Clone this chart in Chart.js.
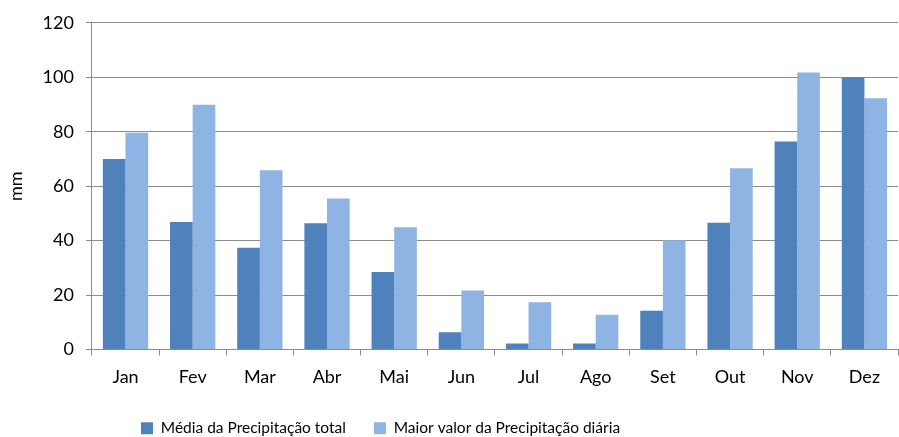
<!DOCTYPE html>
<html>
<head>
<meta charset="utf-8">
<script src="https://cdn.jsdelivr.net/npm/chart.js@4"></script>
<style>
  html, body { margin: 0; padding: 0; background: #fff; overflow: hidden; }
  #wrap { width: 899px; height: 446px; }
</style>
</head>
<body>
<div id="wrap"><canvas id="grafico"></canvas></div>
<script>
const meses = ['Jan', 'Fev', 'Mar', 'Abr', 'Mai', 'Jun', 'Jul', 'Ago', 'Set', 'Out', 'Nov', 'Dez'];
const mediaTotal = [70, 46.8, 37.4, 46.4, 28.5, 6.3, 2.2, 2.2, 14.2, 46.6, 76.4, 100];
const maiorDiaria = [79.6, 89.9, 65.8, 55.5, 44.9, 21.7, 17.4, 12.8, 40.1, 66.6, 101.7, 92.3];
const ticksY = [0, 20, 40, 60, 80, 100, 120];

const fonte = "Lato, 'Open Sans', sans-serif";
const cinza = '#8c8c8c';

Chart.defaults.font.family = fonte;
Chart.defaults.color = '#000';

// a legenda do original fica desviada para a esquerda
const moveLegenda = {
  id: 'moveLegenda',
  afterLayout(chart) {
    const lg = chart.legend;
    const inicio = (lg.left + lg.options.labels.padding + lg.right - lg.lineWidths[0]) / 2;
    const d = 141 - inicio;
    lg.left += d;
    lg.right += d;
  }
};

new Chart(document.getElementById('grafico'), {
  type: 'bar',
  data: {
    labels: meses,
    datasets: [{
      label: 'Média da Precipitação total',
      data: mediaTotal,
      backgroundColor: '#4f81bd',
      categoryPercentage: 0.674,
      barPercentage: 1
    }, {
      label: 'Maior valor da Precipitação diária',
      data: maiorDiaria,
      backgroundColor: '#8eb4e3',
      categoryPercentage: 0.674,
      barPercentage: 1
    }]
  },
  options: {
    responsive: true,
    maintainAspectRatio: false,
    animation: false,
    layout: { padding: { top: 13, right: 1, left: 2, bottom: 0 } },
    plugins: {
      tooltip: { enabled: false },
      legend: {
        position: 'bottom',
        labels: {
          font: { size: 15.5 },
          boxWidth: 12,
          boxHeight: 12,
          padding: 28
        }
      }
    },
    scales: {
      x: {
        grid: { display: true, drawOnChartArea: false, color: cinza, tickLength: 6, offset: true },
        border: { color: cinza },
        ticks: { font: { size: 18 }, padding: 11 },
        afterFit: (ax) => { ax.height = 43; }
      },
      y: {
        min: 0,
        max: 120,
        afterBuildTicks: (ax) => { ax.ticks = ticksY.map(v => ({ value: v })); },
        grid: { color: cinza, tickLength: 6 },
        border: { color: cinza },
        ticks: { font: { size: 18 }, padding: 12 },
        title: { display: true, text: 'mm', font: { size: 18 }, padding: { top: 3, bottom: 4 } }
      }
    }
  },
  plugins: [moveLegenda]
});
</script>
</body>
</html>
